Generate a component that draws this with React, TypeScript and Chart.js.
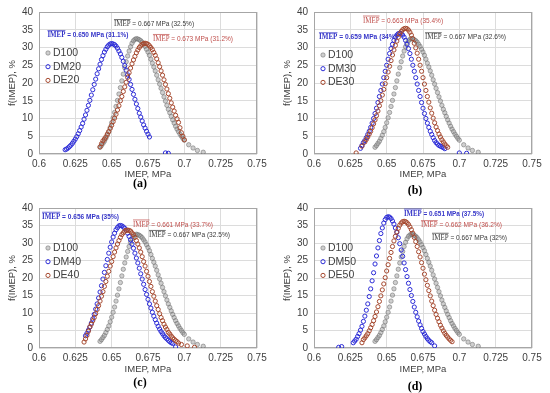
import React, { useEffect, useRef } from 'react';
import { Chart, registerables } from 'chart.js';

Chart.register(...registerables);

type Pt = [number, number];

const X_TICKS = [0.6, 0.625, 0.65, 0.675, 0.7, 0.725, 0.75];
const X_TICK_LABELS = ['0.6', '0.625', '0.65', '0.675', '0.7', '0.725', '0.75'];
const Y_TICKS = [0, 5, 10, 15, 20, 25, 30, 35, 40];
const Y_TICK_LABELS = ['0', '5', '10', '15', '20', '25', '30', '35', '40'];

const D100: Pt[] = [[0.642,1.9],[0.643,2.4],[0.644,3.0],[0.645,3.6],[0.646,4.4],[0.647,5.3],[0.648,6.3],[0.649,7.5],[0.650,8.8],[0.651,10.2],[0.652,11.7],[0.653,13.4],[0.654,15.1],[0.655,16.9],[0.656,18.7],[0.657,20.6],[0.658,22.5],[0.659,24.3],[0.660,26.0],[0.661,27.6],[0.662,29.0],[0.663,30.2],[0.664,31.2],[0.665,31.9],[0.666,32.3],[0.667,32.5],[0.668,32.4],[0.669,32.2],[0.670,31.9],[0.671,31.5],[0.672,30.9],[0.673,30.3],[0.674,29.5],[0.675,28.7],[0.676,27.8],[0.677,26.7],[0.678,25.6],[0.679,24.5],[0.680,23.4],[0.681,22.2],[0.682,20.9],[0.683,19.7],[0.684,18.5],[0.685,17.3],[0.686,16.1],[0.687,14.9],[0.688,13.7],[0.689,12.6],[0.690,11.6],[0.691,10.6],[0.692,9.6],[0.693,8.7],[0.694,7.8],[0.695,7.0],[0.696,6.3],[0.697,5.6],[0.698,5.0],[0.699,4.4],[0.700,3.9],[0.703,2.6],[0.706,1.7],[0.709,1.0],[0.713,0.5]];

const DM20: Pt[] = [[0.618,1.2],[0.619,1.4],[0.620,1.7],[0.621,2.1],[0.622,2.5],[0.623,3.0],[0.624,3.6],[0.625,4.2],[0.626,4.9],[0.627,5.7],[0.628,6.6],[0.629,7.6],[0.630,8.6],[0.631,9.8],[0.632,11.0],[0.633,12.3],[0.634,13.7],[0.635,15.1],[0.636,16.6],[0.637,18.1],[0.638,19.6],[0.639,21.1],[0.640,22.6],[0.641,24.0],[0.642,25.3],[0.643,26.6],[0.644,27.7],[0.645,28.7],[0.646,29.5],[0.647,30.2],[0.648,30.7],[0.649,31.0],[0.650,31.1],[0.651,31.0],[0.652,30.8],[0.653,30.4],[0.654,29.8],[0.655,29.0],[0.656,28.2],[0.657,27.2],[0.658,26.1],[0.659,24.9],[0.660,23.6],[0.661,22.3],[0.662,21.0],[0.663,19.6],[0.664,18.2],[0.665,16.8],[0.666,15.4],[0.667,14.1],[0.668,12.8],[0.669,11.5],[0.670,10.4],[0.671,9.3],[0.672,8.2],[0.673,7.3],[0.674,6.4],[0.675,5.6],[0.676,4.8],[0.687,0.3],[0.689,0.2]];
const DE20: Pt[] = [[0.642,2.0],[0.643,2.9],[0.644,3.7],[0.645,4.2],[0.646,4.8],[0.647,5.6],[0.648,6.3],[0.649,7.2],[0.650,8.1],[0.651,9.1],[0.652,10.1],[0.653,11.2],[0.654,12.4],[0.655,13.6],[0.656,15.0],[0.657,16.2],[0.658,17.6],[0.659,18.9],[0.660,20.2],[0.661,21.6],[0.662,22.9],[0.663,24.2],[0.664,25.4],[0.665,26.5],[0.666,27.5],[0.667,28.5],[0.668,29.3],[0.669,30.0],[0.670,30.5],[0.671,30.9],[0.672,31.1],[0.673,31.2],[0.674,31.1],[0.675,30.9],[0.676,30.5],[0.677,30.0],[0.678,29.4],[0.679,28.6],[0.680,27.8],[0.681,26.8],[0.682,25.7],[0.683,24.6],[0.684,23.4],[0.685,22.2],[0.686,20.9],[0.687,19.6],[0.688,18.3],[0.689,17.0],[0.690,15.7],[0.691,14.4],[0.692,13.2],[0.693,12.1],[0.694,10.9],[0.695,9.9],[0.696,8.9],[0.697,7.4],[0.698,6.0],[0.699,5.0],[0.700,4.0]];

const DM30: Pt[] = [[0.632,1.6],[0.633,2.4],[0.634,3.2],[0.635,3.8],[0.636,4.6],[0.637,5.5],[0.638,6.4],[0.639,7.5],[0.640,8.7],[0.641,10.0],[0.642,11.4],[0.643,12.9],[0.644,14.5],[0.645,16.2],[0.646,17.9],[0.647,19.7],[0.648,21.5],[0.649,23.3],[0.650,25.0],[0.651,26.7],[0.652,28.3],[0.653,29.7],[0.654,30.9],[0.655,32.0],[0.656,32.9],[0.657,33.5],[0.658,33.9],[0.659,34.0],[0.660,33.9],[0.661,33.5],[0.662,32.9],[0.663,32.0],[0.664,30.9],[0.665,29.7],[0.666,28.3],[0.667,26.7],[0.668,25.0],[0.669,23.3],[0.670,21.5],[0.671,19.7],[0.672,17.9],[0.673,16.2],[0.674,14.5],[0.675,12.9],[0.676,11.4],[0.677,10.0],[0.678,8.7],[0.679,7.5],[0.680,6.4],[0.681,5.5],[0.682,4.6],[0.683,3.8],[0.684,3.2],[0.685,2.8],[0.686,2.4],[0.687,2.2],[0.688,2.0],[0.689,1.8],[0.690,1.5],[0.700,0.3],[0.705,0.2]];
const DE30: Pt[] = [[0.629,0.3],[0.633,2.2],[0.635,3.4],[0.636,4.1],[0.637,4.8],[0.638,5.6],[0.639,6.4],[0.640,7.4],[0.641,8.5],[0.642,9.6],[0.643,10.8],[0.644,12.1],[0.645,13.6],[0.646,15.0],[0.647,16.6],[0.648,18.2],[0.649,19.8],[0.650,21.5],[0.651,23.1],[0.652,24.7],[0.653,26.3],[0.654,27.9],[0.655,29.3],[0.656,30.6],[0.657,31.8],[0.658,32.9],[0.659,33.8],[0.660,34.5],[0.661,35.0],[0.662,35.3],[0.663,35.4],[0.664,35.3],[0.665,34.9],[0.666,34.3],[0.667,33.5],[0.668,32.5],[0.669,31.2],[0.670,29.9],[0.671,28.4],[0.672,26.7],[0.673,25.0],[0.674,23.3],[0.675,21.5],[0.676,19.7],[0.677,17.9],[0.678,16.2],[0.679,14.6],[0.680,13.0],[0.681,11.5],[0.682,10.1],[0.683,8.8],[0.684,7.6],[0.685,6.6],[0.686,5.6],[0.687,4.8],[0.688,4.0],[0.689,3.4],[0.690,2.8],[0.691,2.3],[0.692,1.9]];

const DM40: Pt[] = [[0.632,3.5],[0.633,4.2],[0.634,5.1],[0.635,6.0],[0.636,7.1],[0.637,8.3],[0.638,9.6],[0.639,11.1],[0.640,12.6],[0.641,14.3],[0.642,16.0],[0.643,17.8],[0.644,19.7],[0.645,21.6],[0.646,23.5],[0.647,25.3],[0.648,27.1],[0.649,28.8],[0.650,30.3],[0.651,31.7],[0.652,32.8],[0.653,33.8],[0.654,34.4],[0.655,34.9],[0.656,35.0],[0.657,34.9],[0.658,34.6],[0.659,34.2],[0.660,33.6],[0.661,32.8],[0.662,31.9],[0.663,30.9],[0.664,29.7],[0.665,28.5],[0.666,27.1],[0.667,25.7],[0.668,24.3],[0.669,22.8],[0.670,21.2],[0.671,19.7],[0.672,18.2],[0.673,16.7],[0.674,15.3],[0.675,13.9],[0.676,12.6],[0.677,11.4],[0.678,10.2],[0.679,9.1],[0.680,8.1],[0.681,7.1],[0.682,6.2],[0.683,5.4],[0.684,4.7],[0.685,4.1],[0.686,3.5],[0.687,3.0],[0.688,2.6],[0.689,2.2],[0.690,1.8],[0.691,1.5],[0.692,1.3],[0.694,0.3]];
const DE40: Pt[] = [[0.631,1.7],[0.632,2.6],[0.633,3.6],[0.634,4.8],[0.635,6.0],[0.636,6.8],[0.637,7.8],[0.638,8.7],[0.639,9.8],[0.640,11.0],[0.641,12.1],[0.642,13.4],[0.643,14.8],[0.644,16.1],[0.645,17.6],[0.646,19.0],[0.647,20.5],[0.648,21.9],[0.649,23.4],[0.650,24.7],[0.651,26.1],[0.652,27.4],[0.653,28.6],[0.654,29.7],[0.655,30.7],[0.656,31.6],[0.657,32.4],[0.658,32.9],[0.659,33.4],[0.660,33.6],[0.661,33.7],[0.662,33.6],[0.663,33.4],[0.664,32.9],[0.665,32.4],[0.666,31.6],[0.667,30.7],[0.668,29.7],[0.669,28.6],[0.670,27.4],[0.671,26.1],[0.672,24.7],[0.673,23.4],[0.674,21.9],[0.675,20.5],[0.676,19.0],[0.677,17.6],[0.678,16.1],[0.679,14.8],[0.680,13.4],[0.681,12.1],[0.682,11.0],[0.683,9.8],[0.684,8.7],[0.685,7.8],[0.686,6.8],[0.687,6.0],[0.688,5.3],[0.689,4.5],[0.690,4.0],[0.691,3.4],[0.692,2.9],[0.693,2.5],[0.694,2.1],[0.695,1.8],[0.696,1.4],[0.698,1.0],[0.702,0.6],[0.707,0.2]];

const DM50: Pt[] = [[0.617,0.2],[0.619,0.4],[0.627,1.5],[0.628,2.0],[0.629,2.5],[0.630,3.3],[0.631,4.1],[0.632,5.1],[0.633,6.2],[0.634,7.6],[0.635,9.1],[0.636,10.8],[0.637,12.6],[0.638,14.7],[0.639,16.9],[0.640,19.2],[0.641,21.5],[0.642,24.0],[0.643,26.3],[0.644,28.6],[0.645,30.7],[0.646,32.7],[0.647,34.3],[0.648,35.7],[0.649,36.7],[0.650,37.3],[0.651,37.5],[0.652,37.4],[0.653,37.0],[0.654,36.3],[0.655,35.4],[0.656,34.3],[0.657,33.0],[0.658,31.5],[0.659,29.8],[0.660,28.0],[0.661,26.2],[0.662,24.3],[0.663,22.4],[0.664,20.4],[0.665,18.5],[0.666,16.7],[0.667,15.0],[0.668,13.3],[0.669,11.7],[0.670,10.2],[0.671,8.9],[0.672,7.7],[0.673,6.6],[0.674,5.6],[0.675,4.7],[0.676,4.0],[0.677,3.3],[0.678,2.7],[0.679,2.2],[0.680,1.8],[0.681,1.5],[0.683,0.6]];
const DE50: Pt[] = [[0.633,1.5],[0.634,2.4],[0.635,2.9],[0.636,3.5],[0.637,4.1],[0.638,4.9],[0.639,5.8],[0.640,6.7],[0.641,7.8],[0.642,9.0],[0.643,10.3],[0.644,11.8],[0.645,13.3],[0.646,14.9],[0.647,16.6],[0.648,18.3],[0.649,20.1],[0.650,22.0],[0.651,23.8],[0.652,25.6],[0.653,27.3],[0.654,29.0],[0.655,30.6],[0.656,31.9],[0.657,33.2],[0.658,34.2],[0.659,35.1],[0.660,35.7],[0.661,36.1],[0.662,36.2],[0.663,36.1],[0.664,35.8],[0.665,35.3],[0.666,34.6],[0.667,33.8],[0.668,32.8],[0.669,31.6],[0.670,30.4],[0.671,29.0],[0.672,27.5],[0.673,26.0],[0.674,24.4],[0.675,22.8],[0.676,21.1],[0.677,19.5],[0.678,17.9],[0.679,16.4],[0.680,14.9],[0.681,13.4],[0.682,12.1],[0.683,10.8],[0.684,9.6],[0.685,8.5],[0.686,7.5],[0.687,6.5],[0.688,5.7],[0.689,4.9],[0.690,4.2],[0.691,3.6],[0.692,3.1],[0.693,2.6],[0.694,2.2],[0.695,1.8]];

const CAPTIONS = ['(a)', '(b)', '(c)', '(d)'];
const SERIES_NAMES = [
  ['D100', 'DM20', 'DE20'],
  ['D100', 'DM30', 'DE30'],
  ['D100', 'DM40', 'DE40'],
  ['D100', 'DM50', 'DE50'],
];
const SERIES_DATA: Pt[][][] = [
  [D100, DM20, DE20],
  [D100, DM30, DE30],
  [D100, DM40, DE40],
  [D100, DM50, DE50],
];

// mean-value annotations, anchored in data units
type Note = { kind: number; text: string; x0: number; x1: number; y: number };
const NOTES: Note[][] = [
  [
    { kind: 0, text: ' = 0.667 MPa (32.5%)', x0: 0.6516, x1: 0.7067, y: 36.6 },
    { kind: 1, text: ' = 0.650 MPa (31.1%)', x0: 0.6058, x1: 0.6616, y: 33.5 },
    { kind: 2, text: ' = 0.673 MPa (31.2%)', x0: 0.6784, x1: 0.7335, y: 32.4 },
  ],
  [
    { kind: 2, text: ' = 0.663 MPa (35.4%)', x0: 0.6337, x1: 0.6888, y: 37.6 },
    { kind: 1, text: ' = 0.659 MPa (34%)', x0: 0.6034, x1: 0.6571, y: 32.9 },
    { kind: 0, text: ' = 0.667 MPa (32.6%)', x0: 0.6764, x1: 0.7321, y: 32.9 },
  ],
  [
    { kind: 1, text: ' = 0.656 MPa (35%)', x0: 0.6021, x1: 0.6550, y: 37.5 },
    { kind: 2, text: ' = 0.661 MPa (33.7%)', x0: 0.6647, x1: 0.7197, y: 35.3 },
    { kind: 0, text: ' = 0.667 MPa (32.5%)', x0: 0.6757, x1: 0.7314, y: 32.3 },
  ],
  [
    { kind: 1, text: ' = 0.651 MPa (37.5%)', x0: 0.6619, x1: 0.7170, y: 38.4 },
    { kind: 2, text: ' = 0.662 MPa (36.2%)', x0: 0.6736, x1: 0.7294, y: 35.1 },
    { kind: 0, text: ' = 0.667 MPa (32%)', x0: 0.6812, x1: 0.7328, y: 31.5 },
  ],
];

// layout of the four panels (pixels)
const LAYOUT = [
  { left: 0, top: 0, h: 196, plotTop: 9, plotBottom: 154, titleY: 174, capY: 184, legY: 53 },
  { left: 275, top: 0, h: 196, plotTop: 7, plotBottom: 154, titleY: 174, capY: 191, legY: 55 },
  { left: 0, top: 196, h: 197, plotTop: 6, plotBottom: 152, titleY: 173, capY: 187, legY: 52 },
  { left: 275, top: 196, h: 197, plotTop: 6, plotBottom: 152, titleY: 173, capY: 191, legY: 52 },
];

const SANS = '"Liberation Sans", Arial, sans-serif';
const SERIF = '"Liberation Serif", "Times New Roman", serif';
const TEXT = '#404040';

const STYLES = [
  { pointRadius: 2.2, pointBackgroundColor: 'rgba(160,160,160,0.5)', pointBorderColor: 'rgba(95,95,95,0.6)', pointBorderWidth: 0.8, order: 2 },
  { pointRadius: 2.1, pointBackgroundColor: 'rgba(255,255,255,0)', pointBorderColor: '#2b2bd6', pointBorderWidth: 1, order: 1 },
  { pointRadius: 2.1, pointBackgroundColor: 'rgba(255,255,255,0)', pointBorderColor: '#a5482e', pointBorderWidth: 1, order: 0 },
];
const NOTE_COLORS = ['#3a3a3a', '#3535c8', '#c0504d'];

function Panel({ idx }: { idx: number }) {
  const ref = useRef<HTMLCanvasElement>(null);
  const L = LAYOUT[idx];
  useEffect(() => {
    const canvas = ref.current!;
    const titleBottom = L.titleY + 5.7;
    const overlay = {
      id: 'overlay' + idx,
      beforeDatasetsDraw(chart: any) {
        const { ctx, chartArea: a } = chart;
        ctx.save();
        ctx.strokeStyle = '#a6a6a6';
        ctx.lineWidth = 1;
        ctx.strokeRect(Math.round(a.left) + 0.5, Math.round(a.top) + 0.5, Math.round(a.right - a.left) - 1, Math.round(a.bottom - a.top) - 1);
        ctx.restore();
      },
      afterDraw(chart: any) {
        const { ctx, chartArea: a } = chart;
        const xs = chart.scales.x;
        const ys = chart.scales.y;
        // legend
        ctx.save();
        SERIES_NAMES[idx].forEach((name, i) => {
          const st = STYLES[i];
          const y = L.legY + i * 13.7;
          ctx.beginPath();
          ctx.arc(a.left + 9, y, st.pointRadius, 0, Math.PI * 2);
          ctx.fillStyle = st.pointBackgroundColor;
          ctx.fill();
          ctx.lineWidth = st.pointBorderWidth;
          ctx.strokeStyle = st.pointBorderColor;
          ctx.stroke();
          ctx.fillStyle = TEXT;
          ctx.font = `10.5px ${SANS}`;
          ctx.textBaseline = 'middle';
          ctx.textAlign = 'left';
          ctx.fillText(name, a.left + 14, y);
        });
        ctx.restore();
        // notes
        NOTES[idx].forEach((n) => {
          const x0 = xs.getPixelForValue(n.x0);
          const x1 = xs.getPixelForValue(n.x1);
          const y = ys.getPixelForValue(n.y);
          const w = n.kind === 1 ? 'bold ' : '';
          const serif = `${w}8.5px ${SERIF}`;
          const sans = `${w}8px ${SANS}`;
          ctx.save();
          ctx.font = serif;
          const w1 = ctx.measureText('IMEP').width;
          ctx.font = sans;
          const w2 = ctx.measureText(n.text).width;
          const s = (x1 - x0) / (w1 + w2);
          ctx.translate(x0, y);
          ctx.scale(s, 1);
          ctx.fillStyle = NOTE_COLORS[n.kind];
          ctx.strokeStyle = NOTE_COLORS[n.kind];
          ctx.textBaseline = 'middle';
          ctx.textAlign = 'left';
          ctx.font = serif;
          ctx.fillText('IMEP', 0, 0);
          ctx.font = sans;
          ctx.fillText(n.text, w1, 0);
          ctx.lineWidth = 0.8;
          ctx.beginPath();
          ctx.moveTo(0, -4.5);
          ctx.lineTo(w1, -4.5);
          ctx.stroke();
          ctx.restore();
        });
        // caption
        ctx.save();
        ctx.fillStyle = '#000';
        ctx.font = `bold 12px ${SERIF}`;
        ctx.textAlign = 'center';
        ctx.textBaseline = 'middle';
        ctx.fillText(CAPTIONS[idx], 140, L.capY);
        ctx.restore();
      },
    };
    const datasets = SERIES_DATA[idx].map((pts, i) => ({
      label: SERIES_NAMES[idx][i],
      data: pts.map(([x, y]) => ({ x, y })),
      showLine: false,
      ...STYLES[i],
    }));
    const chart = new Chart(canvas, {
      type: 'scatter',
      data: { datasets },
      options: {
        responsive: false,
        animation: false,
        devicePixelRatio: 1,
        layout: { padding: { left: 0, right: 18, top: L.plotTop, bottom: L.h - titleBottom } },
        plugins: { legend: { display: false }, tooltip: { enabled: false } },
        scales: {
          x: {
            type: 'linear',
            min: 0.6,
            max: 0.75,
            afterBuildTicks: (s: any) => { s.ticks = X_TICKS.map((v) => ({ value: v })); },
            afterFit: (s: any) => { s.height = titleBottom - L.plotBottom; },
            grid: { color: '#dcdcdc', lineWidth: 1, drawTicks: false },
            border: { display: false },
            ticks: {
              padding: 4,
              autoSkip: false,
              maxRotation: 0,
              color: TEXT,
              font: { size: 10, family: SANS },
              callback: (_v: any, i: number) => X_TICK_LABELS[i],
            },
            title: { display: true, text: 'IMEP, MPa', color: TEXT, font: { size: 9.5, family: SANS }, padding: 0 },
          },
          y: {
            type: 'linear',
            min: 0,
            max: 40,
            afterBuildTicks: (s: any) => { s.ticks = Y_TICKS.map((v) => ({ value: v })); },
            afterFit: (s: any) => { s.width = 39; },
            grid: { color: '#dcdcdc', lineWidth: 1, drawTicks: false },
            border: { display: false },
            ticks: {
              padding: 6,
              autoSkip: false,
              color: TEXT,
              font: { size: 10, family: SANS },
              callback: (_v: any, i: number) => Y_TICK_LABELS[i],
            },
            title: { display: true, text: 'f(IMEP), %', color: TEXT, font: { size: 9.5, family: SANS }, padding: { top: 7, bottom: 0 } },
          },
        },
      } as any,
      plugins: [overlay],
    });
    return () => chart.destroy();
  }, []);
  return (
    <canvas
      ref={ref}
      width={275}
      height={L.h}
      style={{ position: 'absolute', left: L.left, top: L.top, width: 275, height: L.h }}
    />
  );
}

export default function App() {
  return (
    <div style={{ position: 'absolute', left: 0, top: 0, width: 550, height: 393, background: '#fff' }}>
      {[0, 1, 2, 3].map((i) => (
        <Panel key={i} idx={i} />
      ))}
    </div>
  );
}
